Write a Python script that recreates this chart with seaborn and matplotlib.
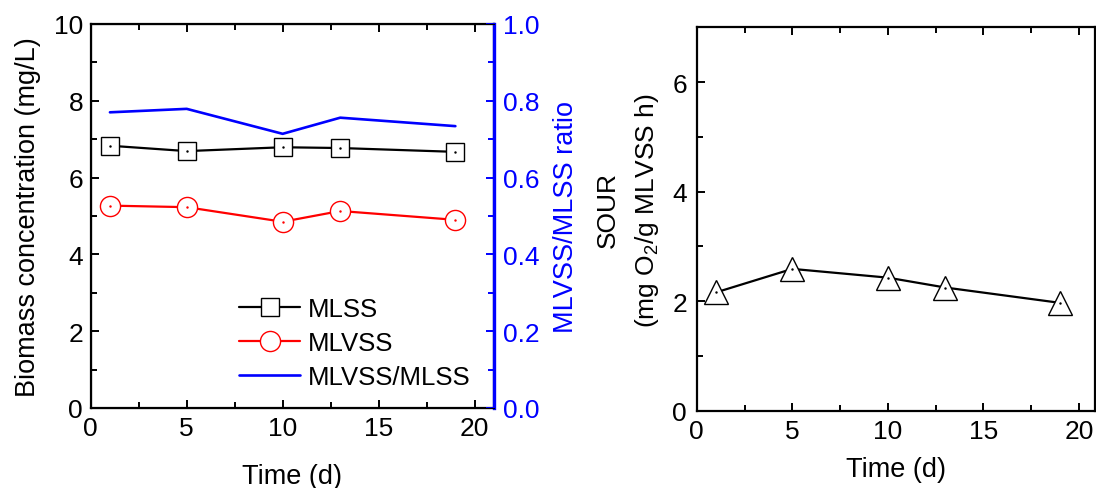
import matplotlib
matplotlib.use("Agg")
import matplotlib.pyplot as plt
from matplotlib.lines import Line2D
from matplotlib.ticker import MultipleLocator, FormatStrFormatter
import seaborn as sns
import pandas as pd

time = [1, 5, 10, 13, 19]
mlss = [6.83, 6.69, 6.79, 6.77, 6.67]
mlvss = [5.27, 5.23, 4.85, 5.13, 4.90]
ratio = [0.770, 0.779, 0.714, 0.756, 0.734]
sour = [2.16, 2.59, 2.43, 2.25, 1.97]

sns.set_style("ticks")
plt.rcParams['font.family'] = ['Liberation Sans', 'DejaVu Sans']
plt.rcParams['mathtext.fontset'] = 'custom'
plt.rcParams['mathtext.rm'] = 'Liberation Sans'
plt.rcParams['xtick.direction'] = 'in'
plt.rcParams['ytick.direction'] = 'in'
for k in ['text.color', 'axes.labelcolor', 'xtick.color', 'ytick.color', 'axes.edgecolor']:
    plt.rcParams[k] = 'black'

TICK = 19
LAB = 19.5

fig = plt.figure(figsize=(10.96, 4.89), dpi=100)
ax1 = fig.add_axes([0.0828, 0.1636, 0.3677, 0.7853])
ax3 = fig.add_axes([0.6357, 0.158, 0.3633, 0.784])

df = pd.DataFrame({"time": time, "mlss": mlss, "mlvss": mlvss, "ratio": ratio, "sour": sour})

sns.lineplot(data=df, x="time", y="mlss", ax=ax1, color="black", lw=1.6,
             marker="s", markersize=13, markerfacecolor="white",
             markeredgecolor="black", markeredgewidth=1.0)
sns.lineplot(data=df, x="time", y="mlvss", ax=ax1, color="red", lw=1.6,
             marker="o", markersize=14.5, markerfacecolor="white",
             markeredgecolor="red", markeredgewidth=1.0)
ax1.plot(time, mlss, ls="none", marker=".", ms=1.5, color="black")
ax1.plot(time, mlvss, ls="none", marker=".", ms=1.5, color="red")
ax1.set_xlim(0, 21)
ax1.set_ylim(0, 10)
ax1.xaxis.set_major_locator(MultipleLocator(5))
ax1.xaxis.set_minor_locator(MultipleLocator(2.5))
ax1.yaxis.set_major_locator(MultipleLocator(2))
ax1.yaxis.set_minor_locator(MultipleLocator(1))
ax1.tick_params(axis="both", which="major", labelsize=TICK, length=6, width=1.4, top=True)
ax1.tick_params(axis="both", which="minor", length=4, width=1.4, top=True)
ax1.tick_params(axis="x", which="major", pad=6)
ax1.tick_params(axis="y", which="major", pad=5.5)
ax1.tick_params(axis="y", right=False, which="both")
ax1.set_xlabel("Time (d)", fontsize=LAB, labelpad=16)
ax1.set_ylabel("Biomass concentration (mg/L)", fontsize=LAB, labelpad=9)
for s in ax1.spines.values():
    s.set_linewidth(1.6)

ax2 = ax1.twinx()
sns.lineplot(data=df, x="time", y="ratio", ax=ax2, color="blue", lw=1.9)
ax2.set_ylim(0, 1.0)
ax2.yaxis.set_major_locator(MultipleLocator(0.2))
ax2.yaxis.set_minor_locator(MultipleLocator(0.1))
ax2.yaxis.set_major_formatter(FormatStrFormatter("%.1f"))
ax2.tick_params(axis="y", which="major", labelsize=TICK, length=6, width=1.4, colors="blue", pad=6.5)
ax2.tick_params(axis="y", which="minor", length=4, width=1.4, colors="blue")
ax2.set_ylabel("MLVSS/MLSS ratio", fontsize=LAB, color="blue", labelpad=10)
ax2.spines["right"].set_color("blue")
ax2.spines["right"].set_linewidth(2.4)

handles = [
    Line2D([], [], color="black", lw=1.6, marker="s", ms=13, mfc="white", mec="black"),
    Line2D([], [], color="red", lw=1.6, marker="o", ms=14.5, mfc="white", mec="red"),
    Line2D([], [], color="blue", lw=1.9),
]
ax2.legend(handles, ["MLSS", "MLVSS", "MLVSS/MLSS"], loc="upper left",
           bbox_to_anchor=(0.368, 0.29), frameon=False, fontsize=18.5,
           handlelength=2.37, handletextpad=0.31, labelspacing=0.4, borderaxespad=0,
           borderpad=0)

sns.lineplot(data=df, x="time", y="sour", ax=ax3, color="black", lw=1.6,
             marker="^", markersize=17, markerfacecolor="white",
             markeredgecolor="black", markeredgewidth=1.0)
ax3.plot(time, sour, ls="none", marker=".", ms=1.5, color="black")
ax3.set_xlim(0, 20.83)
ax3.set_ylim(0, 7)
ax3.xaxis.set_major_locator(MultipleLocator(5))
ax3.xaxis.set_minor_locator(MultipleLocator(2.5))
ax3.yaxis.set_major_locator(MultipleLocator(2))
ax3.yaxis.set_minor_locator(MultipleLocator(1))
ax3.tick_params(axis="both", which="major", labelsize=TICK, length=6, width=1.4, top=True)
ax3.tick_params(axis="both", which="minor", length=4, width=1.4, top=True)
ax3.tick_params(axis="x", which="major", pad=6)
ax3.tick_params(axis="y", which="major", pad=7)
ax3.set_xlabel("Time (d)", fontsize=LAB, labelpad=9)
ax3.set_ylabel("SOUR\n(mg O$_2$/g MLVSS h)", fontsize=19, linespacing=1.6)
ax3.yaxis.set_label_coords(-0.09, 0.525)
for s in ax3.spines.values():
    s.set_linewidth(1.6)

fig.savefig("out.png", dpi=100)
